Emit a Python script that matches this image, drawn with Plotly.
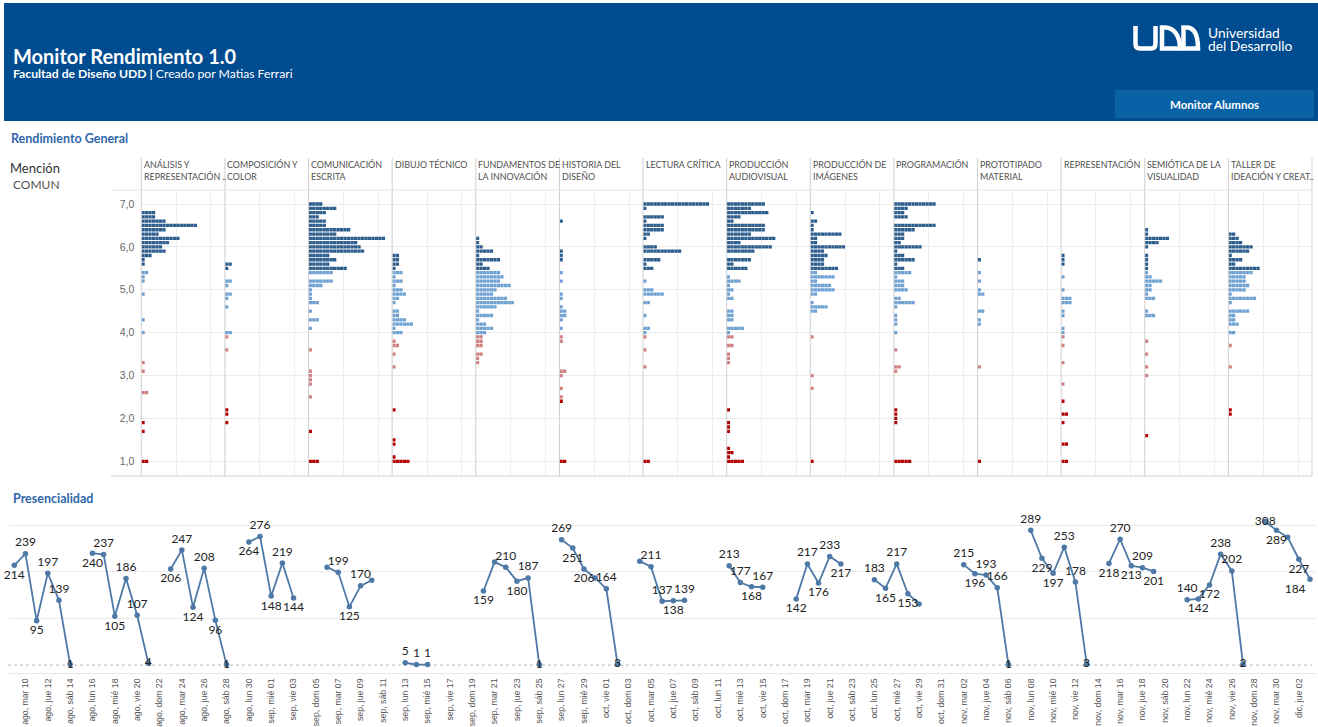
import pandas as pd
import plotly.graph_objects as go

ANCHO, ALTO = 1318, 727


def px(x):
    return x / ANCHO


def py(y):
    return 1 - y / ALTO


# ---------- Rendimiento General: (nota, cantidad de alumnos) por asignatura ----------
analisis_representacion = [(6.8, 4), (6.7, 4), (6.6, 7), (6.5, 16), (6.4, 7), (6.3, 5), (6.2, 11), (6.1, 8),
                           (6.0, 6), (5.9, 7), (5.8, 3), (5.7, 1), (5.6, 1), (5.4, 2), (5.3, 1), (5.2, 1),
                           (4.9, 1), (4.3, 1), (4.0, 1), (3.3, 1), (3.1, 1), (2.6, 2), (1.9, 1), (1.7, 1),
                           (1.0, 2)]
composicion_color = [(5.6, 2), (5.5, 1), (5.2, 2), (5.1, 1), (4.9, 2), (4.8, 1), (4.6, 1), (4.0, 2),
                     (3.9, 1), (3.6, 1), (2.2, 1), (2.1, 1), (1.9, 1)]
comunicacion_escrita = [(7.0, 4), (6.9, 8), (6.8, 5), (6.7, 3), (6.6, 5), (6.5, 5), (6.4, 12), (6.3, 8),
                        (6.2, 22), (6.1, 14), (6.0, 15), (5.9, 16), (5.8, 6), (5.7, 8), (5.6, 6), (5.5, 11),
                        (5.4, 7), (5.2, 7), (5.1, 4), (5.0, 1), (4.9, 1), (4.8, 1), (4.7, 3), (4.5, 1),
                        (4.3, 3), (4.1, 1), (3.6, 1), (3.1, 1), (3.0, 1), (2.9, 1), (2.8, 1), (2.5, 1),
                        (1.7, 1), (1.0, 3)]
dibujo_tecnico = [(5.8, 2), (5.7, 2), (5.6, 2), (5.5, 1), (5.4, 3), (5.3, 1), (5.2, 3), (5.1, 1), (5.0, 3),
                  (4.9, 4), (4.8, 2), (4.7, 1), (4.5, 2), (4.4, 2), (4.3, 4), (4.2, 6), (4.1, 1), (4.0, 3),
                  (3.8, 1), (3.7, 2), (3.5, 1), (3.2, 1), (2.2, 1), (1.5, 1), (1.4, 1), (1.1, 1), (1.0, 5)]
fundamentos_innovacion = [(6.2, 1), (6.1, 1), (6.0, 2), (5.9, 5), (5.8, 1), (5.7, 7), (5.6, 2), (5.5, 4),
                          (5.4, 7), (5.3, 8), (5.2, 7), (5.1, 10), (5.0, 6), (4.9, 5), (4.8, 9), (4.7, 11),
                          (4.6, 6), (4.5, 1), (4.4, 5), (4.3, 1), (4.2, 3), (4.1, 5), (4.0, 3), (3.9, 2),
                          (3.8, 2), (3.7, 2), (3.5, 2), (3.4, 1), (3.3, 1)]
historia_diseno = [(6.6, 1), (5.9, 1), (5.8, 1), (5.7, 1), (5.4, 1), (5.2, 1), (4.9, 1), (4.8, 1), (4.6, 1),
                   (4.5, 2), (4.4, 2), (4.3, 1), (4.1, 1), (3.9, 1), (3.8, 1), (3.1, 2), (3.0, 1), (2.7, 1),
                   (2.5, 1), (2.4, 1), (1.0, 2)]
lectura_critica = [(7.0, 19), (6.9, 1), (6.7, 6), (6.6, 1), (6.5, 6), (6.4, 6), (6.3, 2), (6.2, 1), (6.0, 4),
                   (5.9, 11), (5.7, 5), (5.6, 1), (5.5, 3), (5.2, 1), (5.0, 3), (4.9, 6), (4.7, 2), (4.4, 1),
                   (4.1, 2), (4.0, 1), (3.9, 1), (3.6, 1), (3.2, 1), (1.0, 2)]
produccion_audiovisual = [(7.0, 11), (6.9, 7), (6.8, 12), (6.7, 4), (6.6, 2), (6.5, 11), (6.4, 11), (6.3, 7),
                          (6.2, 14), (6.1, 4), (6.0, 13), (5.9, 8), (5.7, 7), (5.6, 2), (5.5, 6), (5.3, 1),
                          (5.2, 4), (5.1, 1), (5.0, 2), (4.9, 1), (4.8, 2), (4.5, 2), (4.4, 2), (4.3, 2),
                          (4.1, 5), (4.0, 1), (3.9, 2), (3.7, 2), (3.5, 1), (3.4, 1), (3.3, 1), (2.2, 1),
                          (1.9, 1), (1.8, 1), (1.7, 1), (1.3, 1), (1.2, 2), (1.1, 1), (1.0, 5)]
produccion_imagenes = [(6.8, 1), (6.6, 2), (6.5, 1), (6.4, 1), (6.3, 9), (6.2, 2), (6.1, 2), (6.0, 10),
                       (5.9, 4), (5.8, 5), (5.7, 4), (5.6, 4), (5.5, 8), (5.4, 2), (5.3, 7), (5.2, 2),
                       (5.1, 6), (5.0, 7), (4.9, 2), (4.7, 1), (4.6, 5), (4.5, 2), (3.9, 1), (3.0, 1),
                       (2.7, 1), (1.0, 1)]
programacion = [(7.0, 12), (6.9, 4), (6.8, 3), (6.7, 4), (6.5, 12), (6.4, 6), (6.3, 3), (6.2, 3), (6.1, 2),
                (6.0, 8), (5.9, 1), (5.8, 3), (5.7, 6), (5.6, 1), (5.5, 3), (5.4, 5), (5.3, 1), (5.2, 3),
                (5.1, 3), (5.0, 4), (4.8, 2), (4.7, 6), (4.6, 1), (4.4, 1), (4.3, 1), (4.2, 1), (4.0, 1),
                (3.6, 1), (3.2, 2), (3.1, 1), (2.2, 1), (2.1, 1), (2.0, 1), (1.9, 1), (1.0, 5)]
prototipado_material = [(5.7, 1), (5.4, 1), (5.2, 1), (5.0, 1), (4.9, 2), (4.5, 2), (4.3, 1), (4.2, 1),
                        (3.2, 1), (1.0, 1)]
representacion = [(5.8, 1), (5.7, 1), (5.6, 1), (5.3, 1), (5.0, 1), (4.8, 3), (4.7, 3), (4.5, 1), (4.4, 1),
                  (4.1, 1), (4.0, 1), (3.9, 1), (3.7, 1), (3.3, 1), (2.8, 1), (2.4, 1), (2.1, 2), (1.9, 1),
                  (1.4, 2), (1.0, 2)]
semiotica_visualidad = [(6.4, 1), (6.3, 1), (6.2, 7), (6.1, 4), (6.0, 1), (5.8, 1), (5.7, 1), (5.6, 1),
                        (5.5, 1), (5.4, 1), (5.3, 2), (5.2, 5), (5.1, 2), (5.0, 2), (4.9, 1), (4.8, 3),
                        (4.5, 1), (4.4, 3), (3.8, 1), (3.5, 1), (3.2, 1), (3.0, 1), (1.6, 1)]
taller_ideacion = [(6.3, 2), (6.2, 3), (6.1, 4), (6.0, 7), (5.9, 6), (5.8, 1), (5.7, 4), (5.6, 2), (5.5, 9),
                   (5.4, 7), (5.3, 5), (5.2, 5), (5.1, 6), (5.0, 5), (4.9, 1), (4.8, 8), (4.7, 1), (4.5, 6),
                   (4.4, 2), (4.3, 2), (4.2, 3), (4.0, 2), (3.7, 1), (3.2, 1), (2.2, 1), (2.1, 1)]

titulos_asignaturas = [
    "ANÁLISIS Y<br>REPRESENTACIÓN ..", "COMPOSICIÓN Y<br>COLOR", "COMUNICACIÓN<br>ESCRITA",
    "DIBUJO TÉCNICO", "FUNDAMENTOS DE<br>LA INNOVACIÓN", "HISTORIA DEL<br>DISEÑO", "LECTURA CRÍTICA",
    "PRODUCCIÓN<br>AUDIOVISUAL", "PRODUCCIÓN DE<br>IMÁGENES", "PROGRAMACIÓN", "PROTOTIPADO<br>MATERIAL",
    "REPRESENTACIÓN", "SEMIÓTICA DE LA<br>VISUALIDAD", "TALLER DE<br>IDEACIÓN Y CREAT..",
]
notas_asignaturas = [
    analisis_representacion, composicion_color, comunicacion_escrita, dibujo_tecnico,
    fundamentos_innovacion, historia_diseno, lectura_critica, produccion_audiovisual,
    produccion_imagenes, programacion, prototipado_material, representacion,
    semiotica_visualidad, taller_ideacion,
]

# ---------- Presencialidad: alumnos presentes por día ----------
fechas = [
    "2021-08-09", "2021-08-10", "2021-08-11", "2021-08-12", "2021-08-13", "2021-08-14",
    "2021-08-16", "2021-08-17", "2021-08-18", "2021-08-19", "2021-08-20", "2021-08-21",
    "2021-08-23", "2021-08-24", "2021-08-25", "2021-08-26", "2021-08-27", "2021-08-28",
    "2021-08-30", "2021-08-31", "2021-09-01", "2021-09-02", "2021-09-03",
    "2021-09-06", "2021-09-07", "2021-09-08", "2021-09-09", "2021-09-10",
    "2021-09-13", "2021-09-14", "2021-09-15",
    "2021-09-20", "2021-09-21", "2021-09-22", "2021-09-23", "2021-09-24", "2021-09-25",
    "2021-09-27", "2021-09-28", "2021-09-29", "2021-09-30", "2021-10-01", "2021-10-02",
    "2021-10-04", "2021-10-05", "2021-10-06", "2021-10-07", "2021-10-08",
    "2021-10-12", "2021-10-13", "2021-10-14", "2021-10-15",
    "2021-10-18", "2021-10-19", "2021-10-20", "2021-10-21", "2021-10-22",
    "2021-10-25", "2021-10-26", "2021-10-27", "2021-10-28", "2021-10-29",
    "2021-11-02", "2021-11-03", "2021-11-04", "2021-11-05", "2021-11-06",
    "2021-11-08", "2021-11-09", "2021-11-10", "2021-11-11", "2021-11-12", "2021-11-13",
    "2021-11-15", "2021-11-16", "2021-11-17", "2021-11-18", "2021-11-19",
    "2021-11-22", "2021-11-23", "2021-11-24", "2021-11-25", "2021-11-26", "2021-11-27",
    "2021-11-29", "2021-11-30", "2021-12-01", "2021-12-02", "2021-12-03",
]
presentes = [
    214, 239, 95, 197, 139, 1,
    240, 237, 105, 186, 107, 4,
    206, 247, 124, 208, 96, 1,
    264, 276, 148, 219, 144,
    210, 199, 125, 170, 182,
    5, 1, 1,
    159, 221, 210, 180, 187, 1,
    269, 251, 206, 187, 164, 3,
    223, 211, 137, 138, 139,
    213, 177, 168, 167,
    142, 217, 176, 233, 217,
    183, 165, 217, 153, 131,
    215, 196, 193, 166, 1,
    289, 229, 197, 253, 178, 3,
    218, 270, 213, 209, 201,
    140, 142, 172, 238, 202, 2,
    308, 289, 274, 227, 184,
]
# ubicación de cada etiqueta ("" = sin etiqueta visible)
ubicacion_etiqueta = [
    "bottom center", "top center", "bottom center", "top center", "top center", "middle center",
    "bottom center", "top center", "bottom center", "top center", "top center", "middle center",
    "bottom center", "top center", "bottom center", "top center", "bottom center", "middle center",
    "bottom center", "top center", "bottom center", "top center", "bottom center",
    "", "top center", "bottom center", "top center", "",
    "top center", "top center", "top center",
    "bottom center", "", "top center", "bottom center", "top center", "middle center",
    "top center", "bottom center", "bottom center", "", "top center", "middle center",
    "", "top center", "top center", "bottom center", "top center",
    "top center", "top center", "bottom center", "top center",
    "bottom center", "top center", "bottom center", "top center", "bottom center",
    "top center", "bottom center", "top center", "bottom center", "",
    "top center", "bottom center", "top center", "top center", "middle center",
    "top center", "bottom center", "bottom center", "top center", "top center", "middle center",
    "bottom center", "top center", "bottom center", "top center", "bottom center",
    "top center", "bottom center", "bottom center", "top center", "top center", "middle center",
    "middle center", "bottom center", "", "bottom center", "bottom left",
]

MESES = {8: "ago", 9: "sep", 10: "oct", 11: "nov", 12: "dic"}
DIAS = ["lun", "mar", "mié", "jue", "vie", "sáb", "dom"]

AZUL_OSCURO = "#2c5d8d"
AZUL_CLARO = "#6fa2d3"
ROJO_CLARO = "#d08080"
ROJO_OSCURO = "#b30000"
LINEA = "#4e79a7"


def color_nota(nota):
    if nota >= 5.5:
        return AZUL_OSCURO
    if nota >= 4.0:
        return AZUL_CLARO
    if nota >= 2.5:
        return ROJO_CLARO
    return ROJO_OSCURO


fig = go.Figure()
layout_ejes = {}
formas = []
anotaciones = []

# ---------- panel de distribución de notas ----------
X_INI, X_FIN = 141.3, 1312.0
Y_SUP, Y_INF = 190.0, 476.0
ancho_col = (X_FIN - X_INI) / len(notas_asignaturas)

for i, (titulo, datos) in enumerate(zip(titulos_asignaturas, notas_asignaturas)):
    xs, ys, cs = [], [], []
    for nota, cantidad in datos:
        for k in range(cantidad):
            xs.append(k + 0.5)
            ys.append(nota)
            cs.append(color_nota(nota))
    nombre_x = "x" if i == 0 else f"x{i + 1}"
    fig.add_trace(go.Scatter(
        x=xs, y=ys, mode="markers", xaxis=nombre_x, yaxis="y",
        marker=dict(symbol="square", size=3.3, color=cs, line=dict(width=0)),
        hoverinfo="skip", showlegend=False,
    ))
    x0 = X_INI + i * ancho_col
    layout_ejes["xaxis" if i == 0 else f"xaxis{i + 1}"] = dict(
        domain=[px(x0), px(x0 + ancho_col)], range=[0, 24], anchor="y",
        tickvals=[10, 20], showticklabels=False, ticks="", showgrid=True,
        gridcolor="#eeeeee", gridwidth=1, zeroline=False, showline=False, fixedrange=True,
        automargin=False,
    )
    formas.append(dict(type="line", xref="paper", yref="paper", x0=px(x0), x1=px(x0),
                       y0=py(158), y1=py(Y_INF), line=dict(color="#cfcfcf", width=1)))
    anotaciones.append(dict(
        text=titulo, xref="paper", yref="paper", x=px(x0 + 0.5), y=py(157),
        xanchor="left", yanchor="top", align="left", showarrow=False,
        font=dict(family="Lato, sans-serif", size=8.9, color="#505050"),
    ))

formas.append(dict(type="line", xref="paper", yref="paper", x0=px(X_FIN), x1=px(X_FIN),
                   y0=py(158), y1=py(Y_INF), line=dict(color="#cfcfcf", width=1)))
formas.append(dict(type="line", xref="paper", yref="paper", x0=px(111), x1=px(X_FIN),
                   y0=py(Y_SUP), y1=py(Y_SUP), line=dict(color="#e3e3e3", width=1)))
formas.append(dict(type="line", xref="paper", yref="paper", x0=px(111), x1=px(X_FIN),
                   y0=py(Y_INF), y1=py(Y_INF), line=dict(color="#cfcfcf", width=1)))

layout_ejes["yaxis"] = dict(
    domain=[py(Y_INF), py(Y_SUP)], range=[0.657, 7.327], anchor="x",
    tickvals=[1, 2, 3, 4, 5, 6, 7], tickformat=".1f", ticks="",
    tickfont=dict(family="Liberation Sans, Arial, sans-serif", size=10.5, color="#666666"),
    ticklabelstandoff=6, showgrid=True, gridcolor="#ececec", zeroline=False, showline=False,
    fixedrange=True, automargin=False,
)

# ---------- panel de presencialidad ----------
serie = pd.Series(presentes, index=pd.to_datetime(fechas))
etiquetas = pd.Series(ubicacion_etiqueta, index=pd.to_datetime(fechas))
calendario = pd.date_range(fechas[0], fechas[-1], freq="D")
serie = serie.reindex(calendario)
etiquetas = etiquetas.reindex(calendario).fillna("")

valores = [None if pd.isna(v) else int(v) for v in serie.values]
textos = ["" if (v is None or e == "") else str(v) for v, e in zip(valores, etiquetas.values)]
posiciones = [e if e else "top center" for e in etiquetas.values]

fig.add_trace(go.Scatter(
    x=calendario, y=valores, mode="lines+markers+text", xaxis="x15", yaxis="y2",
    line=dict(color=LINEA, width=1.8), marker=dict(color=LINEA, size=5.5),
    text=textos, textposition=posiciones,
    textfont=dict(family="Lato, sans-serif", size=12, color="#222222"),
    connectgaps=False, cliponaxis=False, hoverinfo="skip", showlegend=False,
))

marcas = pd.date_range("2021-08-10", "2021-12-02", freq="2D")
texto_marcas = [f"{MESES[d.month]}, {DIAS[d.weekday()]} {d.day:02d}" for d in marcas]

layout_ejes["xaxis15"] = dict(
    domain=[px(8.7), px(1315.6)], range=["2021-08-08 12:00", "2021-12-03 12:00"],
    anchor="y2", type="date", tickvals=list(marcas), ticktext=texto_marcas, tickangle=-90,
    ticks="", tickfont=dict(family="Liberation Sans, Arial, sans-serif", size=8.7, color="#555555"),
    ticklabelstandoff=1,
    showgrid=False, showline=True, linecolor="#e6e6e6", zeroline=False, fixedrange=True,
    automargin=False,
)
layout_ejes["yaxis2"] = dict(
    domain=[py(673), py(508)], range=[-17, 337], anchor="x15",
    tickvals=[100, 200, 300], showticklabels=False, ticks="", showgrid=True,
    gridcolor="#ebebeb", zeroline=False, showline=False, fixedrange=True, automargin=False,
)
formas.append(dict(type="line", xref="paper", yref="y2", x0=px(8), x1=px(1312), y0=0, y1=0,
                   line=dict(color="#b5b5b5", width=1, dash="dot"), layer="below"))

# ---------- encabezado ----------
formas.append(dict(type="rect", xref="paper", yref="paper", x0=px(4), x1=1, y0=py(121), y1=py(3),
                   fillcolor="#004c91", line=dict(width=0), layer="below"))
formas.append(dict(type="rect", xref="paper", yref="paper", x0=px(1115), x1=px(1314), y0=py(118),
                   y1=py(90), fillcolor="#0a62a6", line=dict(width=0), layer="below"))


def ruta(*segmentos):
    partes = []
    for letra, *nums in segmentos:
        pares = [f"{px(nums[j]):.5f},{py(nums[j + 1]):.5f}" for j in range(0, len(nums), 2)]
        partes.append(letra + " ".join(pares))
    return " ".join(partes)


logo_trazo = dict(color="white", width=4.5)
formas.append(dict(type="path", xref="paper", yref="paper", line=logo_trazo,
                   fillcolor="rgba(0,0,0,0)",
                   path=ruta(("M", 1135.5, 26), ("L", 1135.5, 44), ("Q", 1135.5, 48.5, 1140, 48.5),
                             ("L", 1151, 48.5), ("Q", 1155.5, 48.5, 1155.5, 44), ("L", 1155.5, 26))))
for xa, xb in [(1162, 1180), (1183.5, 1198)]:
    formas.append(dict(type="path", xref="paper", yref="paper", line=logo_trazo,
                       fillcolor="rgba(0,0,0,0)",
                       path=ruta(("M", xa, 48.5), ("L", xa, 27.5), ("L", xa + 3, 27.5),
                                 ("C", xa + 12, 27.5, xb, 36, xb, 48.5), ("Z",))))

blanco = "white"
anotaciones += [
    dict(text="<b>Monitor Rendimiento 1.0</b>", x=px(10.5), y=py(56.5),
         font=dict(family="Lato, sans-serif", size=20, color=blanco)),
    dict(text="<b>Facultad de Diseño UDD |</b> Creado por Matias Ferrari", x=px(11), y=py(73.5),
         font=dict(family="Lato, sans-serif", size=12.2, color=blanco)),
    dict(text="Universidad", x=px(1206), y=py(32.5),
         font=dict(family="Lato, sans-serif", size=13.8, color=blanco)),
    dict(text="del Desarrollo", x=px(1206), y=py(45.5),
         font=dict(family="Lato, sans-serif", size=13.8, color=blanco)),
    dict(text="<b>Monitor Alumnos</b>", x=px(1214.5), y=py(104), xanchor="center",
         font=dict(family="Lato, sans-serif", size=11.5, color=blanco)),
    dict(text="<b>Rendimiento General</b>", x=px(9), y=py(138),
         font=dict(family="Lato, sans-serif", size=12.5, color="#2f66ab")),
    dict(text="<b>Presencialidad</b>", x=px(11), y=py(498),
         font=dict(family="Lato, sans-serif", size=12.5, color="#2f66ab")),
    dict(text="Mención", x=px(8), y=py(168),
         font=dict(family="Lato, sans-serif", size=13, color="#333333")),
    dict(text="COMUN", x=px(11), y=py(184.5),
         font=dict(family="Lato, sans-serif", size=12, color="#555555")),
]
for a in anotaciones:
    a.setdefault("xref", "paper")
    a.setdefault("yref", "paper")
    a.setdefault("xanchor", "left")
    a.setdefault("yanchor", "middle")
    a.setdefault("showarrow", False)

fig.update_layout(
    width=ANCHO, height=ALTO, autosize=False,
    margin=dict(l=0, r=0, t=0, b=0, pad=0),
    paper_bgcolor="white", plot_bgcolor="rgba(0,0,0,0)",
    separators=",.", showlegend=False,
    shapes=formas, annotations=anotaciones,
    **layout_ejes,
)

fig.write_html("out.html", config={"displayModeBar": False})
